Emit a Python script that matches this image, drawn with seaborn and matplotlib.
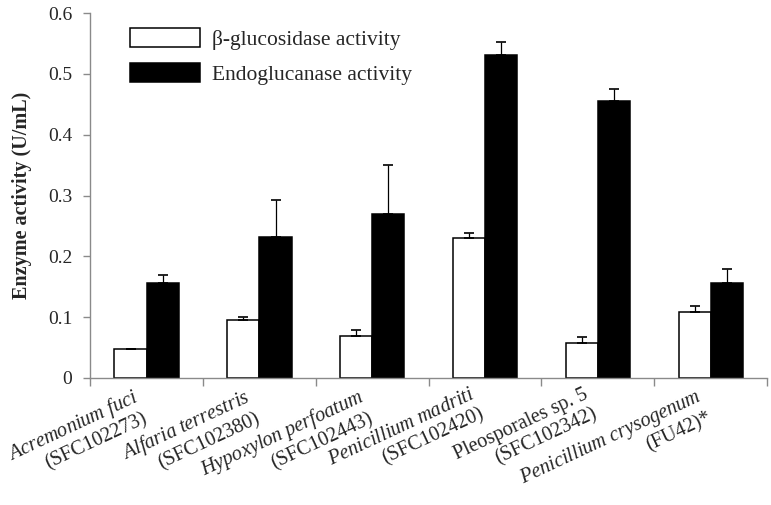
import numpy as np
import pandas as pd
import matplotlib
matplotlib.use("Agg")
import matplotlib.pyplot as plt
import seaborn as sns

# ------------------------------------------------------------
# DATA
# ------------------------------------------------------------

species = [
    "Acremonium fuci",
    "Alfaria terrestris",
    "Hypoxylon perfoatum",
    "Penicillium madriti",
    "Pleosporales sp. 5",
    "Penicillium crysogenum",
]
species_italic = [True, True, True, True, False, True]
strains = [
    "(SFC102273)",
    "(SFC102380)",
    "(SFC102443)",
    "(SFC102420)",
    "(SFC102342)",
    "(FU42)*",
]

bgl_activity = [0.047, 0.096, 0.069, 0.231, 0.058, 0.108]
bgl_error = [0.0, 0.004, 0.010, 0.008, 0.009, 0.010]

egl_activity = [0.157, 0.232, 0.269, 0.531, 0.455, 0.157]
egl_error = [0.012, 0.061, 0.081, 0.022, 0.020, 0.022]

series_names = ["β-glucosidase activity", "Endoglucanase activity"]
yticks = [0, 0.1, 0.2, 0.3, 0.4, 0.5, 0.6]
ytick_labels = ["0", "0.1", "0.2", "0.3", "0.4", "0.5", "0.6"]

# ------------------------------------------------------------
# STYLE
# ------------------------------------------------------------

sns.set_theme(style="white")
plt.rcParams["font.family"] = ["Liberation Serif", "DejaVu Serif"]
plt.rcParams["mathtext.fontset"] = "custom"
plt.rcParams["mathtext.rm"] = "Liberation Serif"
plt.rcParams["mathtext.it"] = "Liberation Serif:italic"

axis_grey = "#8a8a8a"

# ------------------------------------------------------------
# FRAME
# ------------------------------------------------------------

labels = []
for name, ital, code in zip(species, species_italic, strains):
    if ital:
        first = "$\\mathit{" + name.replace(" ", "\\ ") + "}$"
    else:
        first = name
    labels.append(first + "\n" + code)

df = pd.DataFrame({
    "label": labels * 2,
    "series": [series_names[0]] * len(labels) + [series_names[1]] * len(labels),
    "value": bgl_activity + egl_activity,
    "err": bgl_error + egl_error,
})

# ------------------------------------------------------------
# PLOT
# ------------------------------------------------------------

fig = plt.figure(figsize=(7.71, 5.05), dpi=100)
ax = fig.add_axes([0.117, 0.2515, 0.878, 0.7225])

sns.barplot(
    data=df,
    x="label",
    y="value",
    hue="series",
    hue_order=series_names,
    order=labels,
    palette=["white", "black"],
    edgecolor="black",
    linewidth=1.1,
    width=0.57,
    errorbar=None,
    ax=ax,
)

# error bars (upper only) placed on the drawn bars
bars = ax.patches[: 2 * len(labels)]
for i, series in enumerate(series_names):
    sub = df[df["series"] == series]
    group = bars[i * len(labels):(i + 1) * len(labels)]
    xs = [b.get_x() + b.get_width() / 2 for b in group]
    ax.errorbar(
        xs,
        sub["value"].values,
        yerr=[np.zeros(len(xs)), sub["err"].values],
        fmt="none",
        ecolor="black",
        elinewidth=0.9,
        capsize=3.3,
        capthick=1.2,
        zorder=1,
    )

ax.set_ylim(0, 0.6)
ax.set_xlim(-0.5, len(labels) - 0.5)

ax.set_yticks(yticks)
ax.set_yticklabels(ytick_labels, fontsize=14)

# category labels: right-aligned two-line blocks, rotated
ax.set_xticks(range(len(labels)))
ax.set_xticklabels([])
for i, lab in enumerate(labels):
    ax.annotate(
        lab,
        xy=(i, 0),
        xycoords=("data", "axes fraction"),
        xytext=(-11, -5.5),
        textcoords="offset points",
        fontsize=14.6,
        rotation=25,
        ha="right",
        va="top",
        rotation_mode="anchor",
        multialignment="right",
        linespacing=1.15,
        annotation_clip=False,
    )

ax.set_xticks(np.arange(-0.5, len(labels)), minor=True)
ax.tick_params(axis="x", which="major", length=0)
ax.tick_params(axis="x", which="minor", length=6, width=1, color=axis_grey,
               direction="out", bottom=True)
ax.tick_params(axis="y", length=5, width=1, color=axis_grey, left=True,
               direction="out", pad=8)

ax.set_xlabel("")
ax.set_ylabel("Enzyme activity (U/mL)", fontsize=14.5, fontweight="bold",
              labelpad=11)

for side in ["top", "right"]:
    ax.spines[side].set_visible(False)
for side in ["left", "bottom"]:
    ax.spines[side].set_color(axis_grey)
    ax.spines[side].set_linewidth(1)

ax.legend(
    loc="upper left",
    bbox_to_anchor=(0.03, 1.012),
    frameon=False,
    fontsize=15.5,
    handlelength=3.25,
    handleheight=1.0,
    labelspacing=0.6,
    handletextpad=0.55,
)

plt.savefig("out.png", dpi=100)
plt.close()
